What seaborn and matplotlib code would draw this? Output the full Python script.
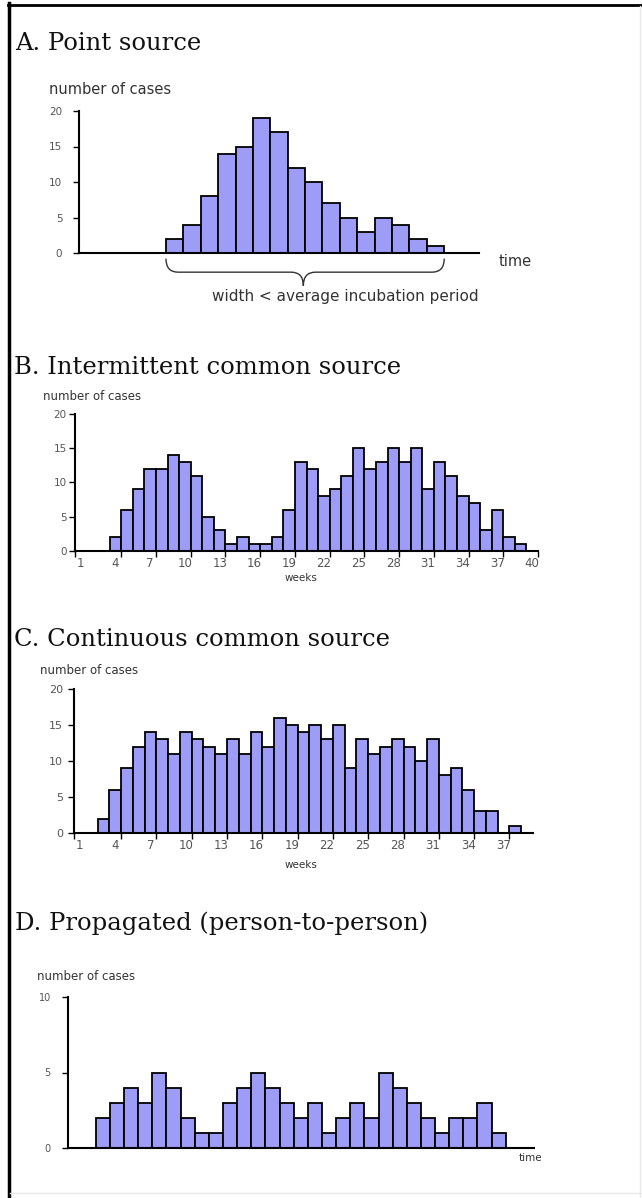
import matplotlib
matplotlib.use("Agg")
import matplotlib.pyplot as plt
from matplotlib.lines import Line2D
from matplotlib.path import Path
from matplotlib.patches import PathPatch
import seaborn as sns

# A. point source - cases per time unit
a_time = list(range(1, 24))
a_cases = [0, 0, 0, 0, 0, 2, 4, 8, 14, 15, 19, 17, 12, 10, 7, 5, 3, 5, 4, 2, 1, 0, 0]

# B. intermittent common source - cases per week
b_weeks = list(range(1, 41))
b_cases = [0, 0, 0, 2, 6, 9, 12, 12, 14, 13, 11, 5, 3, 1, 2, 1, 1, 2, 6, 13,
           12, 8, 9, 11, 15, 12, 13, 15, 13, 15, 9, 13, 11, 8, 7, 3, 6, 2, 1, 0]
b_ticks = [1, 4, 7, 10, 13, 16, 19, 22, 25, 28, 31, 34, 37, 40]

# C. continuous common source - cases per week
c_weeks = list(range(1, 40))
c_cases = [0, 0, 2, 6, 9, 12, 14, 13, 11, 14, 13, 12, 11, 13, 11, 14, 12, 16, 15, 14,
           15, 13, 15, 9, 13, 11, 12, 13, 12, 10, 13, 8, 9, 6, 3, 3, 0, 1, 0]
c_ticks = [1, 4, 7, 10, 13, 16, 19, 22, 25, 28, 31, 34, 37]

# D. propagated - cases per time unit
d_time = list(range(1, 34))
d_cases = [0, 0, 2, 3, 4, 3, 5, 4, 2, 1, 1, 3, 4, 5, 4, 3, 2, 3, 1, 2, 3, 2, 5,
           4, 3, 2, 1, 2, 2, 3, 1, 0, 0]

BAR = "#9d9cf6"
W, H = 642, 1198
TITLE = dict(family="DejaVu Serif", fontsize=17.5, va="center", color="#111111")

plt.rcParams["font.family"] = ["DejaVu Sans"]
fig = plt.figure(figsize=(W / 100, H / 100), dpi=100)
fig.patch.set_facecolor("white")


def px_axes(left, top, right, bottom):
    return fig.add_axes([left / W, 1 - bottom / H, (right - left) / W, (bottom - top) / H])


def ftext(x, y, s, **kw):
    fig.text(x / W, 1 - y / H, s, **kw)


def panel(ax, x, y, ymax, step, ylab_size, ylab_pad):
    sns.barplot(x=x, y=y, native_scale=True, width=1.0, color=BAR, saturation=1,
                edgecolor="black", linewidth=1.3, errorbar=None, ax=ax)
    ax.set_xlim(x[0] - 0.5, x[-1] + 0.5)
    ax.set_ylim(0, ymax)
    ax.set_yticks(range(0, ymax + 1, step))
    ax.set_xlabel("")
    ax.set_ylabel("")
    ax.set_facecolor("none")
    sns.despine(ax=ax)
    for s in ("left", "bottom"):
        ax.spines[s].set_linewidth(1.5)
        ax.spines[s].set_color("black")
    ax.tick_params(axis="y", direction="out", length=4, width=1, labelsize=ylab_size,
                   labelcolor="#555555", pad=ylab_pad)


def week_axis(ax, ticks, x):
    ax.set_xticks(ticks)
    ax.set_xticklabels([str(t) for t in ticks])
    ax.set_xticks([t + 0.5 for t in ticks if t + 0.5 <= x[-1] + 0.5 and t > 1] + [x[0] - 0.5], minor=True)
    ax.tick_params(axis="x", which="major", length=0, labelsize=8.5, labelcolor="#555555", pad=4)
    ax.tick_params(axis="x", which="minor", direction="out", length=4, width=1)


# ---- A ----
axA = px_axes(79, 111, 479, 253)
panel(axA, a_time, a_cases, 20, 5, 7.5, 8)
axA.set_xticks([])
# brace under the bars
xl, xr = 5.5, 21.5
xm = 13.4
verts = [(xl, -0.8), (xl, -2.7), (xl + 0.7, -2.7), (xm - 0.7, -2.7),
         (xm, -2.7), (xm, -4.6), (xm, -2.7), (xm + 0.7, -2.7),
         (xr - 0.7, -2.7), (xr, -2.7), (xr, -0.8)]
codes = [Path.MOVETO, Path.CURVE3, Path.CURVE3, Path.LINETO,
         Path.CURVE3, Path.CURVE3, Path.CURVE3, Path.CURVE3,
         Path.LINETO, Path.CURVE3, Path.CURVE3]
axA.add_patch(PathPatch(Path(verts, codes), fill=False, lw=1, color="#333333", clip_on=False))

ftext(15, 44, "A. Point source", **TITLE)
ftext(49, 89, "number of cases", fontsize=10.5, va="center", color="#333333")
ftext(499, 261, "time", fontsize=10.5, va="center", color="#333333")
ftext(345, 296, "width < average incubation period", fontsize=11, va="center", ha="center", color="#333333")

# ---- B ----
axB = px_axes(75, 414, 538, 551)
panel(axB, b_weeks, b_cases, 20, 5, 7.5, 2)
week_axis(axB, b_ticks, b_weeks)
ftext(14, 367, "B. Intermittent common source", **TITLE)
ftext(43, 397, "number of cases", fontsize=8.5, va="center", color="#333333")
ftext(301, 578, "weeks", fontsize=7.5, va="center", ha="center", color="#333333")

# ---- C ----
axC = px_axes(74, 689, 533, 833)
panel(axC, c_weeks, c_cases, 20, 5, 8, 4)
week_axis(axC, c_ticks, c_weeks)
ftext(14, 640, "C. Continuous common source", **TITLE)
ftext(40, 670, "number of cases", fontsize=8.5, va="center", color="#333333")
ftext(301, 865, "weeks", fontsize=7.5, va="center", ha="center", color="#333333")

# ---- D ----
axD = px_axes(67.5, 997, 534, 1148)
panel(axD, d_time, d_cases, 10, 5, 7, 8)
axD.set_xticks([])
ftext(15, 923, "D. Propagated (person-to-person)", **TITLE)
ftext(37, 977, "number of cases", fontsize=8.5, va="center", color="#333333")
ftext(519, 1158, "time", fontsize=7.5, va="center", color="#333333")

# page frame
fig.add_artist(Line2D([9 / W, 9 / W], [0, 1 - 3 / H], transform=fig.transFigure, color="black", lw=2.5))
fig.add_artist(Line2D([8 / W, 1], [1 - 5 / H, 1 - 5 / H], transform=fig.transFigure, color="black", lw=2))
fig.add_artist(Line2D([640 / W, 640 / W], [0, 1 - 6 / H], transform=fig.transFigure, color="#e8e8e8", lw=1))
fig.add_artist(Line2D([10 / W, 1], [1 - 1193 / H, 1 - 1193 / H], transform=fig.transFigure, color="#e8e8e8", lw=1))

fig.savefig("out.png", dpi=100)
